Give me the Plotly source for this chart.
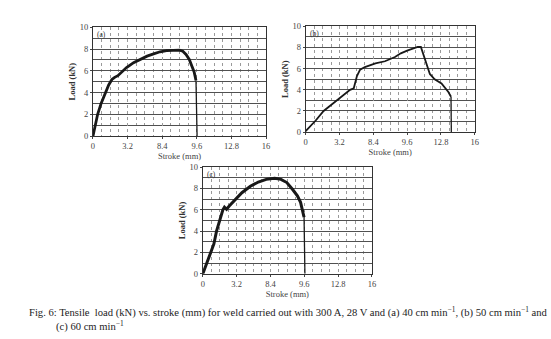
import plotly.graph_objects as go

W, H = 551, 339

# Load–stroke records (stroke in mm, load in kN)
stroke_a = [0, 0.2, 0.43, 0.75, 1.15, 1.45, 1.75, 2.0, 2.3, 2.6, 3.1, 3.75, 4.4, 5.0, 5.6, 6.2,
            6.8, 7.4, 8.0, 8.3, 8.6, 8.9, 9.15, 9.35, 9.52, 9.62]
load_a = [0, 0.9, 2.0, 3.0, 4.0, 4.7, 5.2, 5.4, 5.55, 5.8, 6.3, 6.75, 7.05, 7.35, 7.55, 7.75,
          7.85, 7.9, 7.9, 7.8, 7.5, 7.05, 6.5, 5.9, 5.1, 0]

stroke_b = [0, 0.6, 0.95, 1.7, 2.3, 2.9, 3.6, 4.2, 4.55, 4.85, 5.15, 5.6, 6.6, 7.5, 8.45, 9.0,
            9.6, 10.2, 10.6, 10.9, 11.2, 11.5, 11.75, 12.2, 12.85, 13.5, 13.75, 13.78]
load_b = [0.1, 0.7, 1.1, 2.0, 2.5, 3.0, 3.5, 4.0, 4.15, 5.3, 5.9, 6.15, 6.5, 6.7, 7.1, 7.45,
          7.7, 7.9, 8.05, 8.05, 7.1, 6.3, 5.5, 5.0, 4.6, 3.8, 3.35, 0]

stroke_c = [0, 0.35, 0.75, 1.05, 1.3, 1.6, 1.9, 2.05, 2.25, 2.5, 3.1, 3.7, 4.5, 5.25, 6.0, 6.8,
            7.4, 7.95, 8.5, 8.95, 9.25, 9.45, 9.58, 9.66]
load_c = [0, 1.0, 2.0, 2.8, 4.0, 5.0, 6.0, 6.25, 6.05, 6.35, 7.0, 7.6, 8.2, 8.6, 8.85, 8.95,
          8.85, 8.55, 7.9, 7.3, 6.7, 5.9, 5.3, 0]

x_tickvals = [0, 3.2, 6.4, 9.6, 12.8, 16]
x_ticktext = ["0", "3.2", "8.4", "9.6", "12.8", "16"]
y_tickvals = [0, 2, 4, 6, 8, 10]
panel_tags = ["(a)", "(b)", "(c)"]
caption_1 = ("Fig. 6: Tensile  load (kN) vs. stroke (mm) for weld carried out with 300 A, 28 V and "
             "(a) 40 cm min<sup>\u22121</sup>, (b) 50 cm min<sup>\u22121</sup> and")
caption_2 = "(c) 60 cm min<sup>\u22121</sup>"

SERIF = "Liberation Serif, Times New Roman, serif"

# Plot boxes in pixels: left, right, top, bottom
boxes = [(92, 267, 23, 135), (307, 478, 22, 131), (203, 374, 167, 277)]
series = [(stroke_a, load_a, 2.8), (stroke_b, load_b, 1.8), (stroke_c, load_c, 3.0)]

fig = go.Figure()
layout = {}
for i, ((l, r, t, b), (xs, ys, lw)) in enumerate(zip(boxes, series), start=1):
    xa = "x" if i == 1 else f"x{i}"
    ya = "y" if i == 1 else f"y{i}"
    # loaded part of the record (thick, noisy band) and the final fracture drop (thin)
    fig.add_trace(go.Scatter(x=xs[:-1], y=ys[:-1], mode="lines", xaxis=xa, yaxis=ya,
                             line=dict(color="#181818", width=lw),
                             showlegend=False, hoverinfo="skip"))
    fig.add_trace(go.Scatter(x=xs[-2:], y=ys[-2:], mode="lines", xaxis=xa, yaxis=ya,
                             line=dict(color="#1a1a1a", width=1.3),
                             showlegend=False, hoverinfo="skip"))
    xkey = "xaxis" if i == 1 else f"xaxis{i}"
    ykey = "yaxis" if i == 1 else f"yaxis{i}"
    layout[xkey] = dict(
        domain=[l / W, r / W], anchor=ya, range=[0, 16],
        tickvals=x_tickvals, ticktext=x_ticktext, ticks="outside", ticklen=2,
        tickfont=dict(family=SERIF, size=8.5, color="#444"),
        showgrid=True, gridcolor="#9a9a9a", gridwidth=1, griddash="dot",
        minor=dict(dtick=0.8, tick0=0, showgrid=True, gridcolor="#9a9a9a",
                   gridwidth=1, griddash="dot", ticks=""),
        showline=True, linecolor="#333", linewidth=1, mirror=True, zeroline=False,
        title=dict(text="Stroke (mm)", font=dict(family=SERIF, size=8.5, color="#444"),
                   standoff=1),
    )
    layout[ykey] = dict(
        domain=[1 - b / H, 1 - t / H], anchor=xa, range=[0, 10],
        tickvals=y_tickvals, ticks="outside", ticklen=2,
        tickfont=dict(family=SERIF, size=8.5, color="#444"),
        showgrid=True, gridcolor="#505050", gridwidth=1,
        minor=dict(dtick=1, showgrid=True, gridcolor="#505050", gridwidth=1, ticks=""),
        showline=True, linecolor="#333", linewidth=1, mirror=True, zeroline=False,
        title=dict(text="<b>Load (kN)</b>", font=dict(family=SERIF, size=8.5, color="#333"),
                   standoff=2),
    )

annotations = []
for (l, r, t, b), tag in zip(boxes, panel_tags):
    annotations.append(dict(x=(l + 2) / W, y=1 - (t + 1) / H, xref="paper", yref="paper",
                            text=tag, showarrow=False, xanchor="left", yanchor="top",
                            font=dict(family=SERIF, size=7.5, color="#333")))

annotations.append(dict(x=25 / W, y=1 - 316 / H, xref="paper", yref="paper", text=caption_1,
                        showarrow=False, xanchor="left", yanchor="middle",
                        font=dict(family=SERIF, size=10.6, color="#222")))
annotations.append(dict(x=53 / W, y=1 - 331 / H, xref="paper", yref="paper", text=caption_2,
                        showarrow=False, xanchor="left", yanchor="middle",
                        font=dict(family=SERIF, size=10.6, color="#222")))

fig.update_layout(**layout)
fig.update_layout(width=W, height=H, margin=dict(l=0, r=0, t=0, b=0),
                  paper_bgcolor="white", plot_bgcolor="white",
                  annotations=annotations)

fig.write_html("out.html")
